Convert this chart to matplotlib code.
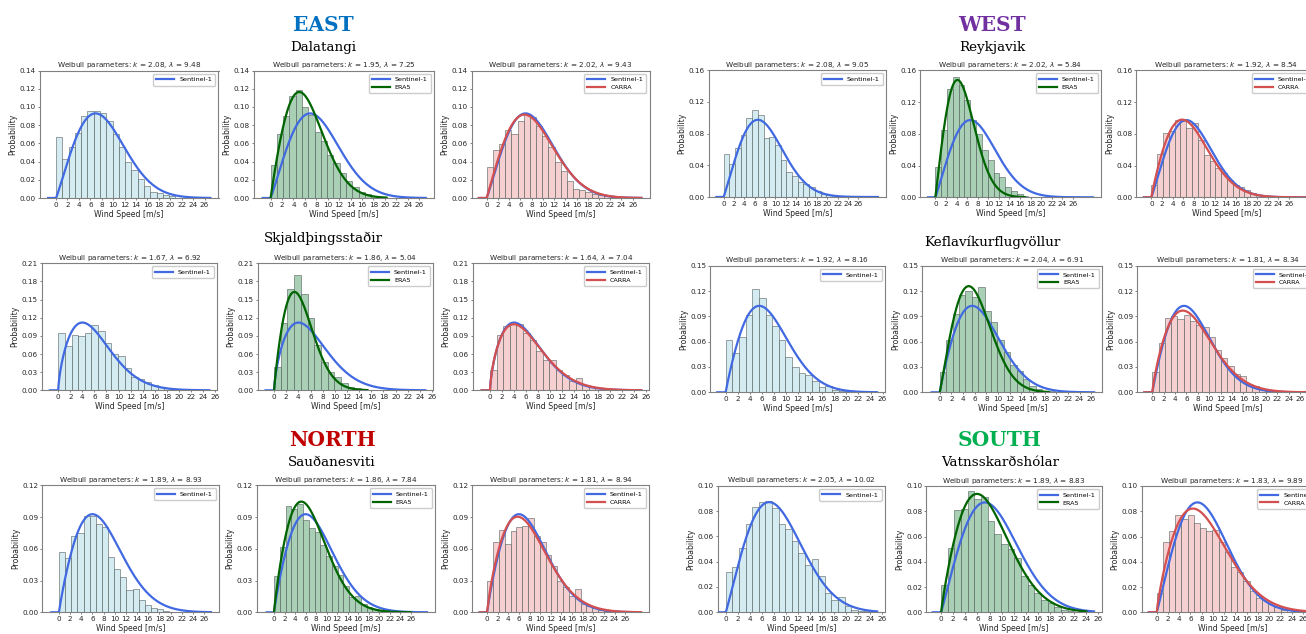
import numpy as np
import matplotlib.pyplot as plt

W, H = 1306, 634

# regions and stations (left group: EAST/NORTH, right group: WEST/SOUTH)
regions = ["EAST", "WEST", "NORTH", "SOUTH"]
region_colors = ["#0070c0", "#7030a0", "#c00000", "#00b050"]
stations = ["Dalatangi", "Reykjavik",
            "Skjaldþingsstaðir", "Keflavíkurflugvöllur",
            "Sauðanesviti", "Vatnsskarðshólar"]

# Weibull fit parameters (k, lambda) per station
s1_params = [(2.08, 9.48), (2.08, 9.05), (1.67, 6.92), (1.92, 8.16), (1.89, 8.93), (2.05, 10.02)]
era5_params = [(1.95, 7.25), (2.02, 5.84), (1.86, 5.04), (2.04, 6.91), (1.86, 7.84), (1.89, 8.83)]
carra_params = [(2.02, 9.43), (1.92, 8.54), (1.64, 7.04), (1.81, 8.34), (1.81, 8.94), (1.83, 9.89)]

# histogram densities (bins of 1.1 m/s starting at 0)
dal_s1 = [0.067, 0.043, 0.056, 0.071, 0.090, 0.096, 0.095, 0.093, 0.085, 0.070, 0.056, 0.039,
          0.031, 0.021, 0.013, 0.007, 0.005, 0.003, 0.002]
dal_era5 = [0.036, 0.070, 0.090, 0.112, 0.119, 0.100, 0.091, 0.073, 0.063, 0.047, 0.038, 0.028,
            0.019, 0.012, 0.007, 0.004, 0.002, 0.001]
dal_carra = [0.034, 0.053, 0.059, 0.075, 0.070, 0.085, 0.092, 0.089, 0.079, 0.068, 0.056, 0.039,
             0.030, 0.019, 0.010, 0.009, 0.007, 0.004, 0.003, 0.002, 0.001]
rey_s1 = [0.054, 0.041, 0.062, 0.078, 0.099, 0.109, 0.103, 0.074, 0.075, 0.065, 0.046, 0.032,
          0.027, 0.019, 0.016, 0.013, 0.008, 0.004, 0.002]
rey_era5 = [0.038, 0.085, 0.137, 0.152, 0.142, 0.122, 0.097, 0.080, 0.059, 0.047, 0.030, 0.025,
            0.013, 0.008, 0.004, 0.002, 0.001]
rey_carra = [0.015, 0.054, 0.081, 0.084, 0.097, 0.096, 0.087, 0.094, 0.072, 0.053, 0.046, 0.037,
             0.030, 0.022, 0.015, 0.013, 0.009, 0.005, 0.003, 0.001]
skj_s1 = [0.094, 0.073, 0.091, 0.090, 0.094, 0.108, 0.098, 0.079, 0.060, 0.057, 0.037, 0.022,
          0.019, 0.014, 0.008, 0.005, 0.003, 0.002, 0.001]
skj_era5 = [0.038, 0.111, 0.167, 0.190, 0.160, 0.120, 0.075, 0.046, 0.030, 0.022, 0.012, 0.006,
            0.003, 0.002, 0.001]
skj_carra = [0.033, 0.091, 0.106, 0.110, 0.110, 0.095, 0.083, 0.065, 0.050, 0.050, 0.033, 0.025,
             0.015, 0.020, 0.008, 0.005, 0.003, 0.002, 0.001]
kef_s1 = [0.062, 0.046, 0.066, 0.092, 0.122, 0.112, 0.092, 0.079, 0.062, 0.042, 0.030, 0.023,
          0.020, 0.013, 0.006, 0.007, 0.003, 0.002, 0.001]
kef_era5 = [0.024, 0.062, 0.093, 0.115, 0.120, 0.113, 0.125, 0.096, 0.083, 0.062, 0.048, 0.032,
            0.025, 0.016, 0.008, 0.004, 0.002, 0.001]
kef_carra = [0.024, 0.059, 0.088, 0.090, 0.087, 0.091, 0.084, 0.080, 0.077, 0.066, 0.050, 0.041,
             0.031, 0.022, 0.019, 0.010, 0.008, 0.004, 0.002, 0.001]
sau_s1 = [0.057, 0.051, 0.072, 0.075, 0.091, 0.091, 0.083, 0.081, 0.052, 0.041, 0.033, 0.021,
          0.022, 0.012, 0.007, 0.004, 0.003, 0.001]
sau_era5 = [0.034, 0.062, 0.100, 0.098, 0.102, 0.087, 0.080, 0.076, 0.064, 0.053, 0.044, 0.035,
            0.025, 0.014, 0.015, 0.008, 0.005, 0.003, 0.002, 0.001]
sau_carra = [0.030, 0.066, 0.078, 0.065, 0.077, 0.081, 0.082, 0.089, 0.072, 0.066, 0.054, 0.044,
             0.030, 0.024, 0.015, 0.022, 0.008, 0.006, 0.004, 0.002, 0.001]
vat_s1 = [0.032, 0.036, 0.051, 0.070, 0.083, 0.087, 0.088, 0.082, 0.070, 0.066, 0.056, 0.047,
          0.037, 0.042, 0.029, 0.015, 0.010, 0.012, 0.005, 0.002, 0.001, 0.001]
vat_era5 = [0.022, 0.051, 0.081, 0.082, 0.096, 0.090, 0.091, 0.072, 0.062, 0.054, 0.050, 0.043,
            0.029, 0.022, 0.015, 0.010, 0.007, 0.004, 0.002, 0.001, 0.0005]
vat_carra = [0.015, 0.056, 0.064, 0.077, 0.074, 0.077, 0.071, 0.067, 0.064, 0.065, 0.056, 0.048,
             0.036, 0.032, 0.025, 0.017, 0.011, 0.010, 0.007, 0.004, 0.002]

hists = [(dal_s1, dal_era5, dal_carra), (rey_s1, rey_era5, rey_carra),
         (skj_s1, skj_era5, skj_carra), (kef_s1, kef_era5, kef_carra),
         (sau_s1, sau_era5, sau_carra), (vat_s1, vat_era5, vat_carra)]

# max wind speed of the ERA5 curve
era5_max = [20.3, 16.9, 15.3, 18.7, 26.0, 24.0]

# y range and tick step per station
y_top = [0.14, 0.16, 0.21, 0.15, 0.12, 0.10]
y_step = [0.02, 0.04, 0.03, 0.03, 0.03, 0.02]

bin_w = 1.1

# ---- layout (pixels) ----
rects = [
    [(39.5, 70.5, 179, 127.5), (253.5, 70.5, 180.5, 127.5), (471.5, 70.5, 178, 127.5),
     (708.5, 70, 177.5, 127), (920, 70.3, 181, 127), (1136, 70.3, 181, 127)],
    [(41.7, 263.3, 175.6, 127), (257.7, 263.3, 175.6, 127), (472.7, 263.3, 176.6, 127),
     (710, 265.7, 175, 126.6), (922.3, 265.7, 180, 126.6), (1137.3, 265.7, 181, 126.6)],
    [(42.3, 485.3, 176.7, 127), (256.7, 485.3, 178.3, 127), (472.3, 485.3, 176.7, 127),
     (717.7, 485.7, 167, 126.6), (926, 486, 176, 126.3), (1141.7, 486, 181, 126.3)],
]
xlims = [
    [(-2.9, 28.45), (-3.0, 28.6), (-2.7, 29.0), (-2.9, 31.3), (-2.9, 31.3), (-2.9, 31.3)],
    [(-2.75, 26.4), (-2.7, 26.2), (-2.9, 26.6), (-2.6, 26.4), (-3.0, 27.9), (-2.65, 29.2)],
    [(-3.0, 28.7), (-3.3, 30.6), (-2.8, 30.5), (-1.35, 26.5), (-2.5, 26.6), (-2.67, 29.5)],
]

hist_colors = ["#d4ecf1", "#a9cfb5", "#f6d0d0"]
s1_color = "#4169e1"
other_colors = [None, "#006400", "#d45050"]
other_labels = [None, "ERA5", "CARRA"]


def weibull(x, k, lam):
    xp = np.clip(x, 0, None)
    return np.where(x > 0, (k / lam) * (xp / lam) ** (k - 1) * np.exp(-(xp / lam) ** k), 0.0)


fig = plt.figure(figsize=(W / 100, H / 100), dpi=100)

for s in range(6):
    row, grp = s // 2, s % 2
    params = [s1_params[s], era5_params[s], carra_params[s]]
    for j in range(3):
        col = grp * 3 + j
        l, t, w, h = rects[row][col]
        ax = fig.add_axes([l / W, 1 - (t + h) / H, w / W, h / H])
        x0, x1 = xlims[row][col]
        m = 0.05 * (x1 - x0) / 1.1
        lo, hi = max(x0, -1.4), x1 - m

        vals = np.array(hists[s][j])
        edges = np.arange(len(vals)) * bin_w
        ax.bar(edges, vals, width=bin_w, align="edge", color=hist_colors[j],
               edgecolor=(0.25, 0.3, 0.3, 0.6), linewidth=0.6, zorder=1)

        xs = np.linspace(lo, hi, 400)
        ax.plot(xs, weibull(xs, *s1_params[s]), color=s1_color, lw=1.6,
                label="Sentinel-1", zorder=3)
        if j == 1:
            xe = np.linspace(0, era5_max[s], 400)
            ax.plot(xe, weibull(xe, *params[j]), color=other_colors[j], lw=1.6,
                    label=other_labels[j], zorder=4)
        elif j == 2:
            ax.plot(xs, weibull(xs, *params[j]), color=other_colors[j], lw=1.6,
                    label=other_labels[j], zorder=4)

        k, lam = params[j]
        ax.set_title(f"Weibull parameters: $k$ = {k:.2f}, $\\lambda$ = {lam:.2f}",
                     fontsize=5.2, pad=2.5, color="0.15")
        ax.set_xlim(x0, x1)
        ax.set_ylim(0, y_top[s])
        ax.set_xticks(np.arange(0, 27, 2))
        ax.set_yticks(np.arange(0, y_top[s] + 1e-9, y_step[s]))
        ax.yaxis.set_major_formatter(plt.FormatStrFormatter("%.2f"))
        ax.tick_params(labelsize=5.2, length=1.5, pad=1.2, width=0.5,
                       colors="0.3", labelcolor="0.15")
        ax.set_xlabel("Wind Speed [m/s]", fontsize=5.6, labelpad=1.5, color="0.15")
        ax.set_ylabel("Probability", fontsize=5.6, labelpad=1.5, color="0.15")
        for sp in ax.spines.values():
            sp.set_color("0.5")
            sp.set_linewidth(0.8)
        ax.legend(loc="upper right", fontsize=4.6, handlelength=2.8,
                  borderpad=0.5, labelspacing=0.35, framealpha=1,
                  edgecolor="0.8", fancybox=True)

# region and station titles
serif = ["DejaVu Serif"]
fig.text(323 / W, 1 - 25 / H, regions[0], color=region_colors[0], fontsize=14.5,
         fontweight="bold", family=serif, ha="center", va="center")
fig.text(992 / W, 1 - 25 / H, regions[1], color=region_colors[1], fontsize=14.5,
         fontweight="bold", family=serif, ha="center", va="center")
fig.text(332 / W, 1 - 440 / H, regions[2], color=region_colors[2], fontsize=14.5,
         fontweight="bold", family=serif, ha="center", va="center")
fig.text(1000 / W, 1 - 440 / H, regions[3], color=region_colors[3], fontsize=14.5,
         fontweight="bold", family=serif, ha="center", va="center")

name_pos = [(323, 47), (992, 48), (323, 238), (992, 242), (332, 462), (1000, 462)]
for name, (px, py) in zip(stations, name_pos):
    fig.text(px / W, 1 - py / H, name, color="black", fontsize=9.7,
             family=serif, ha="center", va="center")

fig.savefig("out.png", dpi=100)
